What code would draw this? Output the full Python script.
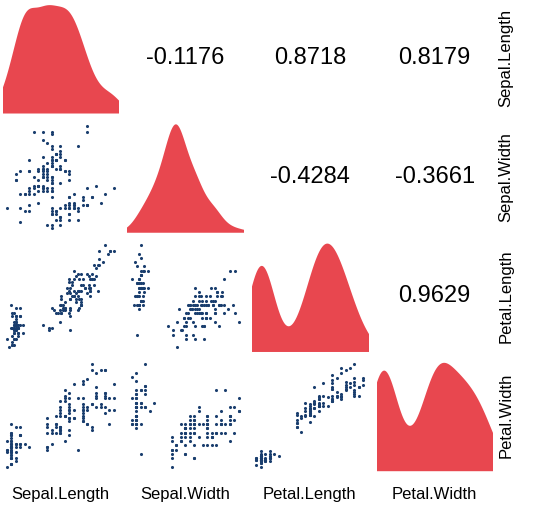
import numpy as np, pandas as pd, seaborn as sns
import matplotlib
matplotlib.use("Agg")
import matplotlib.pyplot as plt

variables = ["Sepal.Length", "Sepal.Width", "Petal.Length", "Petal.Width"]
sepal_length = [5.1,4.9,4.7,4.6,5.0,5.4,4.6,5.0,4.4,4.9,5.4,4.8,4.8,4.3,5.8,5.7,5.4,5.1,5.7,5.1,5.4,5.1,4.6,5.1,4.8,5.0,5.0,5.2,5.2,4.7,4.8,5.4,5.2,5.5,4.9,5.0,5.5,4.9,4.4,5.1,5.0,4.5,4.4,5.0,5.1,4.8,5.1,4.6,5.3,5.0,
7.0,6.4,6.9,5.5,6.5,5.7,6.3,4.9,6.6,5.2,5.0,5.9,6.0,6.1,5.6,6.7,5.6,5.8,6.2,5.6,5.9,6.1,6.3,6.1,6.4,6.6,6.8,6.7,6.0,5.7,5.5,5.5,5.8,6.0,5.4,6.0,6.7,6.3,5.6,5.5,5.5,6.1,5.8,5.0,5.6,5.7,5.7,6.2,5.1,5.7,
6.3,5.8,7.1,6.3,6.5,7.6,4.9,7.3,6.7,7.2,6.5,6.4,6.8,5.7,5.8,6.4,6.5,7.7,7.7,6.0,6.9,5.6,7.7,6.3,6.7,7.2,6.2,6.1,6.4,7.2,7.4,7.9,6.4,6.3,6.1,7.7,6.3,6.4,6.0,6.9,6.7,6.9,5.8,6.8,6.7,6.7,6.3,6.5,6.2,5.9]
sepal_width = [3.5,3.0,3.2,3.1,3.6,3.9,3.4,3.4,2.9,3.1,3.7,3.4,3.0,3.0,4.0,4.4,3.9,3.5,3.8,3.8,3.4,3.7,3.6,3.3,3.4,3.0,3.4,3.5,3.4,3.2,3.1,3.4,4.1,4.2,3.1,3.2,3.5,3.6,3.0,3.4,3.5,2.3,3.2,3.5,3.8,3.0,3.8,3.2,3.7,3.3,
3.2,3.2,3.1,2.3,2.8,2.8,3.3,2.4,2.9,2.7,2.0,3.0,2.2,2.9,2.9,3.1,3.0,2.7,2.2,2.5,3.2,2.8,2.5,2.8,2.9,3.0,2.8,3.0,2.9,2.6,2.4,2.4,2.7,2.7,3.0,3.4,3.1,2.3,3.0,2.5,2.6,3.0,2.6,2.3,2.7,3.0,2.9,2.9,2.5,2.8,
3.3,2.7,3.0,2.9,3.0,3.0,2.5,2.9,2.5,3.6,3.2,2.7,3.0,2.5,2.8,3.2,3.0,3.8,2.6,2.2,3.2,2.8,2.8,2.7,3.3,3.2,2.8,3.0,2.8,3.0,2.8,3.8,2.8,2.8,2.6,3.0,3.4,3.1,3.0,3.1,3.1,3.1,2.7,3.2,3.3,3.0,2.5,3.0,3.4,3.0]
petal_length = [1.4,1.4,1.3,1.5,1.4,1.7,1.4,1.5,1.4,1.5,1.5,1.6,1.4,1.1,1.2,1.5,1.3,1.4,1.7,1.5,1.7,1.5,1.0,1.7,1.9,1.6,1.6,1.5,1.4,1.6,1.6,1.5,1.5,1.4,1.5,1.2,1.3,1.4,1.3,1.5,1.3,1.3,1.3,1.6,1.9,1.4,1.6,1.4,1.5,1.4,
4.7,4.5,4.9,4.0,4.6,4.5,4.7,3.3,4.6,3.9,3.5,4.2,4.0,4.7,3.6,4.4,4.5,4.1,4.5,3.9,4.8,4.0,4.9,4.7,4.3,4.4,4.8,5.0,4.5,3.5,3.8,3.7,3.9,5.1,4.5,4.5,4.7,4.4,4.1,4.0,4.4,4.6,4.0,3.3,4.2,4.2,4.2,4.3,3.0,4.1,
6.0,5.1,5.9,5.6,5.8,6.6,4.5,6.3,5.8,6.1,5.1,5.3,5.5,5.0,5.1,5.3,5.5,6.7,6.9,5.0,5.7,4.9,6.7,4.9,5.7,6.0,4.8,4.9,5.6,5.8,6.1,6.4,5.6,5.1,5.6,6.1,5.6,5.5,4.8,5.4,5.6,5.1,5.1,5.9,5.7,5.2,5.0,5.2,5.4,5.1]
petal_width = [0.2,0.2,0.2,0.2,0.2,0.4,0.3,0.2,0.2,0.1,0.2,0.2,0.1,0.1,0.2,0.4,0.4,0.3,0.3,0.3,0.2,0.4,0.2,0.5,0.2,0.2,0.4,0.2,0.2,0.2,0.2,0.4,0.1,0.2,0.2,0.2,0.2,0.1,0.2,0.2,0.3,0.3,0.2,0.6,0.4,0.3,0.2,0.2,0.2,0.2,
1.4,1.5,1.5,1.3,1.5,1.3,1.6,1.0,1.3,1.4,1.0,1.5,1.0,1.4,1.3,1.4,1.5,1.0,1.5,1.1,1.8,1.3,1.5,1.2,1.3,1.4,1.4,1.7,1.5,1.0,1.1,1.0,1.2,1.6,1.5,1.6,1.5,1.3,1.3,1.3,1.2,1.4,1.2,1.0,1.3,1.2,1.3,1.3,1.1,1.3,
2.5,1.9,2.1,1.8,2.2,2.1,1.7,1.8,1.8,2.5,2.0,1.9,2.1,2.0,2.4,2.3,1.8,2.2,2.3,1.5,2.3,2.0,2.0,1.8,2.1,1.8,1.8,1.8,2.1,1.6,1.9,2.0,2.2,1.5,1.4,2.3,2.4,1.8,1.8,2.1,2.4,2.3,1.9,2.3,2.5,2.3,1.9,2.0,2.3,1.8]

df = pd.DataFrame(dict(zip(variables, [sepal_length, sepal_width, petal_length, petal_width])))
RED = "#E8474F"; BLUE = "#1A3E6E"

fig, axes = plt.subplots(4, 4, figsize=(5.44, 5.23), dpi=100)
fig.subplots_adjust(left=0.005, right=0.905, top=0.995, bottom=0.1, wspace=0.08, hspace=0.08)
corr = df.corr()

def lims(v):
    lo, hi = df[v].min(), df[v].max()
    p = (hi - lo) * 0.04
    return lo - p, hi + p

for i, vr in enumerate(variables):
    for j, vc in enumerate(variables):
        ax = axes[i, j]
        ax.set_axis_off()
        if i == j:
            sns.kdeplot(x=df[vc], ax=ax, fill=True, color=RED, alpha=1, linewidth=0, cut=3)
            ax.set_xlim(df[vc].min(), df[vc].max())
            ymax = ax.get_ylim()[1]
            ax.set_ylim(0, ymax * 0.97)
        elif i > j:
            sns.scatterplot(x=df[vr], y=df[vc], ax=ax, color=BLUE, s=5, linewidth=0)
            ax.set_xlim(*lims(vr))
            ax.set_ylim(*lims(vc))
        else:
            ax.text(0.5, 0.5, f"{corr.loc[vr, vc]:.4f}", ha="center", va="center",
                    fontsize=17, transform=ax.transAxes, family="Liberation Sans")
        ax.set_xlabel(""); ax.set_ylabel("")
    axes[i, 3].text(1.12, 0.5, vr, rotation=90, ha="center", va="center",
                    fontsize=12, transform=axes[i, 3].transAxes, family="Liberation Sans")
    axes[3, i].text(0.5, -0.22, vr, ha="center", va="center",
                    fontsize=12, transform=axes[3, i].transAxes, family="Liberation Sans")
fig.savefig("out.png", dpi=100)
